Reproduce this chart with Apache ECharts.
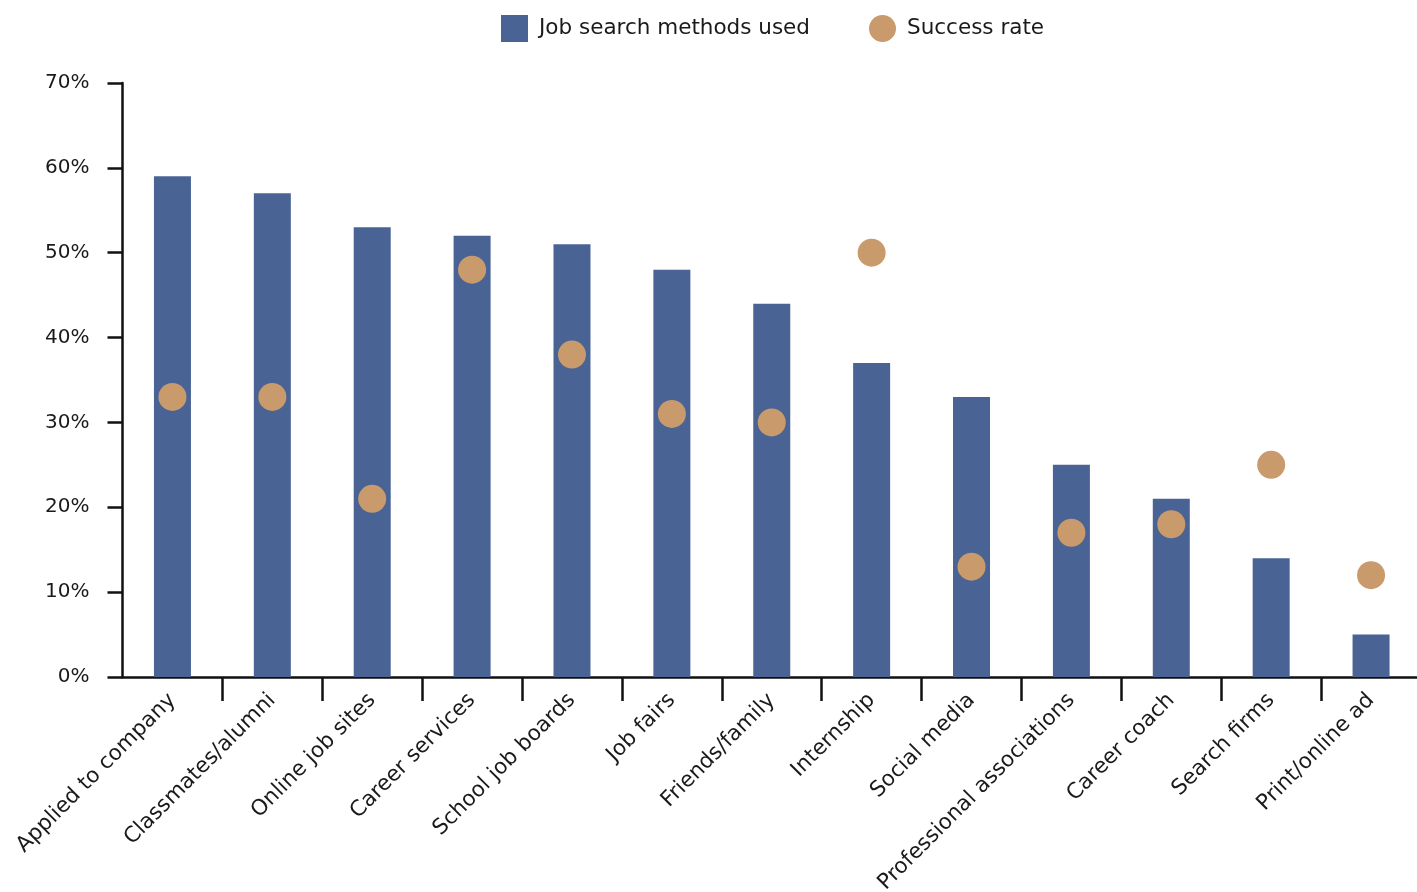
<!DOCTYPE html>
<html>
<head>
<meta charset="utf-8">
<script src="https://cdn.jsdelivr.net/npm/echarts@6/dist/echarts.min.js"></script>
<style>
  html, body { margin: 0; padding: 0; background: #ffffff; }
  #chart { width: 1417px; height: 892px; }
</style>
</head>
<body>
<div id="chart"></div>
<script>
// Job search methods: share of graduates using each method, and its success rate (%)
const categories = [
  'Applied to company', 'Classmates/alumni', 'Online job sites', 'Career services',
  'School job boards', 'Job fairs', 'Friends/family', 'Internship', 'Social media',
  'Professional associations', 'Career coach', 'Search firms', 'Print/online ad'
];
const methodsUsed = [59, 57, 53, 52, 51, 48, 44, 37, 33, 25, 21, 14, 5];
const successRate = [33, 33, 21, 48, 38, 31, 30, 50, 13, 17, 18, 25, 12];
const yTicks = [0, 10, 20, 30, 40, 50, 60, 70];

const FONT = '"DejaVu Sans", sans-serif';
const TEXT = '#1a1a1a';
const BAR = '#4a6395';
const DOT = '#c99a6b';

const chart = echarts.init(document.getElementById('chart'), null, { renderer: 'canvas' });

chart.setOption({
  animation: false,
  backgroundColor: '#ffffff',
  legend: {
    top: 15,
    left: 501,
    padding: 0,
    itemWidth: 27,
    itemHeight: 27,
    itemGap: 59,
    textStyle: { fontFamily: FONT, fontSize: 21.5, color: TEXT, padding: [14, 0, 0, 6] },
    data: [
      { name: 'Job search methods used', icon: 'rect' },
      { name: 'Success rate', icon: 'circle' }
    ]
  },
  // the category axis runs slightly past the right edge, so its closing tick falls outside
  grid: { left: 122.5, right: -4, top: 83, bottom: 215, containLabel: false, outerBoundsMode: 'none' },
  xAxis: {
    type: 'category',
    data: categories,
    boundaryGap: true,
    axisLine: { lineStyle: { color: '#111', width: 2.5 } },
    axisTick: {
      show: true,
      length: 24,
      lineStyle: { color: '#111', width: 2.5 },
      interval: function (i) { return i > 0; }
    },
    axisLabel: {
      rotate: 45,
      margin: 20,
      interval: 0,
      fontFamily: FONT,
      fontSize: 21.5,
      color: TEXT
    }
  },
  yAxis: {
    type: 'value',
    min: 0,
    max: 70,
    interval: 10,
    splitLine: { show: false },
    axisLine: { show: true, lineStyle: { color: '#111', width: 2.5 } },
    axisTick: { show: true, length: 15, lineStyle: { color: '#111', width: 2.5 } },
    axisLabel: {
      margin: 33,
      fontFamily: FONT,
      fontSize: 20,
      color: TEXT,
      formatter: function (v) { return yTicks.includes(v) ? v + '%' : ''; }
    }
  },
  series: [
    {
      name: 'Job search methods used',
      type: 'bar',
      data: methodsUsed,
      barWidth: 37,
      itemStyle: { color: BAR }
    },
    {
      name: 'Success rate',
      type: 'scatter',
      data: successRate,
      symbol: 'circle',
      symbolSize: 28,
      itemStyle: { color: DOT, opacity: 1 },
      z: 3
    }
  ]
});
</script>
</body>
</html>
